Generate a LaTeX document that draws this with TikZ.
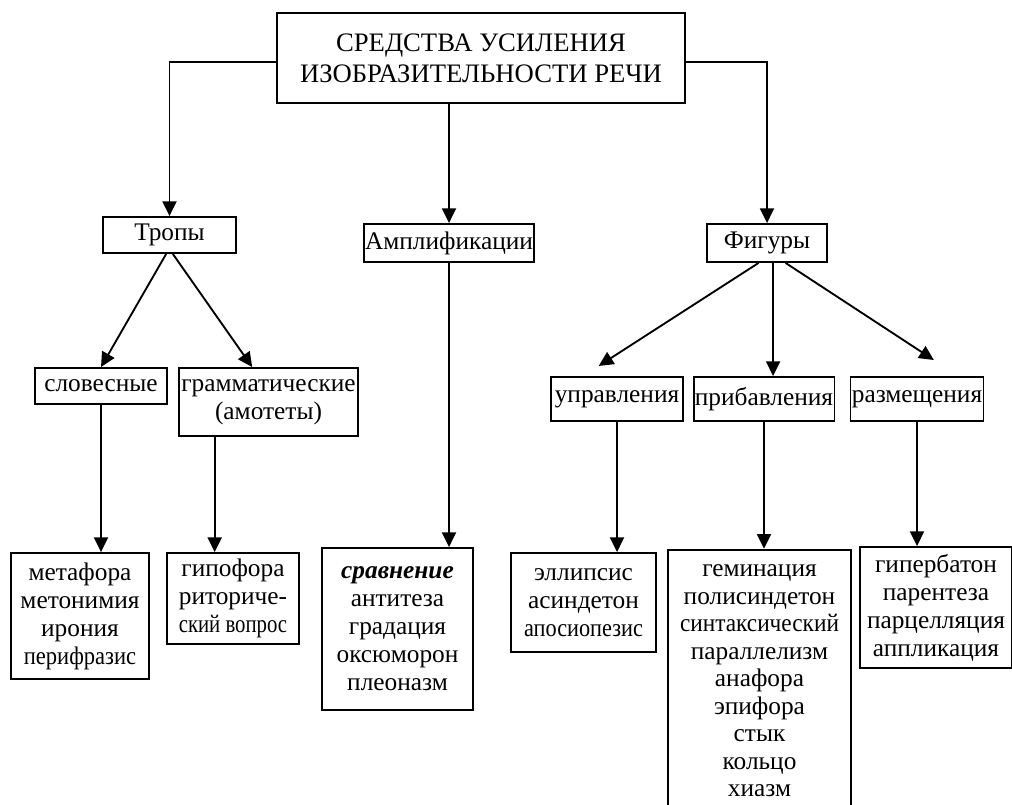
\documentclass[tikz,border=0pt]{standalone}
\usepackage{fontspec}
\setmainfont{Liberation Serif}
\usepackage{graphicx}
\usetikzlibrary{arrows.meta}

\begin{document}
\begin{tikzpicture}[x=0.75pt,y=-0.75pt,line width=1.4pt,
    >={Triangle[width=10.5pt,length=11pt]},
    box/.style={draw,align=center,inner sep=1pt,font=\fontsize{19}{21}\selectfont}]
    \useasboundingbox (0,0) rectangle (1012,804);
    \node[box,minimum width=306pt,minimum height=67.5pt,font=\fontsize{20}{23.25}\selectfont] (top) at (481,58) {СРЕДСТВА УСИЛЕНИЯ\\ИЗОБРАЗИТЕЛЬНОСТИ РЕЧИ};
    \node[box,minimum width=99.75pt,minimum height=27pt] (tropy) at (169.5,235) {Тропы};
    \node[box,minimum width=126pt,minimum height=28.5pt] (ampl) at (449,243) {Амплификации};
    \node[box,minimum width=90pt,minimum height=28.5pt] (figury) at (767,243) {Фигуры};
    \node[box,minimum width=99pt,minimum height=27pt] (slov) at (101,386) {словесные};
    \node[box,minimum width=134.25pt,minimum height=51pt] (gramm) at (268.5,402) {грамматические\\(амотеты)};
    \node[box,minimum width=99pt,minimum height=33pt] (upr) at (617,399) {управления};
    \node[box,minimum width=103.5pt,minimum height=33pt] (prib) at (764,399) {прибавления};
    \node[box,minimum width=99pt,minimum height=33pt] (razm) at (917,399) {размещения};
    \node[box,minimum width=103.5pt,minimum height=94.5pt] (metaf) at (80,616) {метафора\\метонимия\\ирония\\\scalebox{0.89}[1]{перифразис}};
    \node[box,minimum width=99pt,minimum height=68.25pt] (gipof) at (233,598.5) {гипофора\\риториче-\\\scalebox{0.82}[1]{ский вопрос}};
    \node[box,minimum width=113.25pt,minimum height=121.5pt] (sravn) at (397.5,629) {\textbf{\textit{сравнение}}\\антитеза\\градация\\оксюморон\\плеоназм};
    \node[box,minimum width=108.75pt,minimum height=74.25pt] (ellip) at (583.5,602.5) {эллипсис\\асиндетон\\\scalebox{0.88}[1]{апосиопезис}};
    \node[box,minimum width=137.25pt,minimum height=197pt,font=\fontsize{19}{20.6}\selectfont] (gemin) at (759.5,681) {геминация\\полисиндетон\\\scalebox{0.92}[1]{синтаксический}\\параллелизм\\анафора\\эпифора\\стык\\кольцо\\хиазм};
    \node[box,minimum width=114pt,minimum height=90.75pt] (giperb) at (936,607.5) {гипербатон\\парентеза\\парцелляция\\аппликация};
    \draw[->] (top.181) -| (tropy.north);
    \draw[->] (top.-1) -| (figury.north);
    \draw[->] (ampl.north |- top.south) -- (ampl.north);
    \draw[->] (tropy.-100) -- (slov.north);
    \draw[->] (tropy.-80) -- (gramm.115);
    \draw[->] (slov.south) -- (slov.south |- metaf.north);
    \draw[->] (gramm.-147) -- (gramm.-147 |- gipof.north);
    \draw[->] (ampl.south) -- (ampl.south |- sravn.north);
    \draw[->,shorten >=14pt] (figury.-113) -- (upr.146);
    \draw[->] (figury.-73) -- (figury.-73 |- prib.north);
    \draw[->,shorten >=22pt] (figury.-47) -- (razm.29);
    \draw[->] (upr.south) -- (upr.south |- ellip.north);
    \draw[->] (prib.south) -- (prib.south |- gemin.north);
    \draw[->] (razm.south) -- (razm.south |- giperb.north);
\end{tikzpicture}
\end{document}
